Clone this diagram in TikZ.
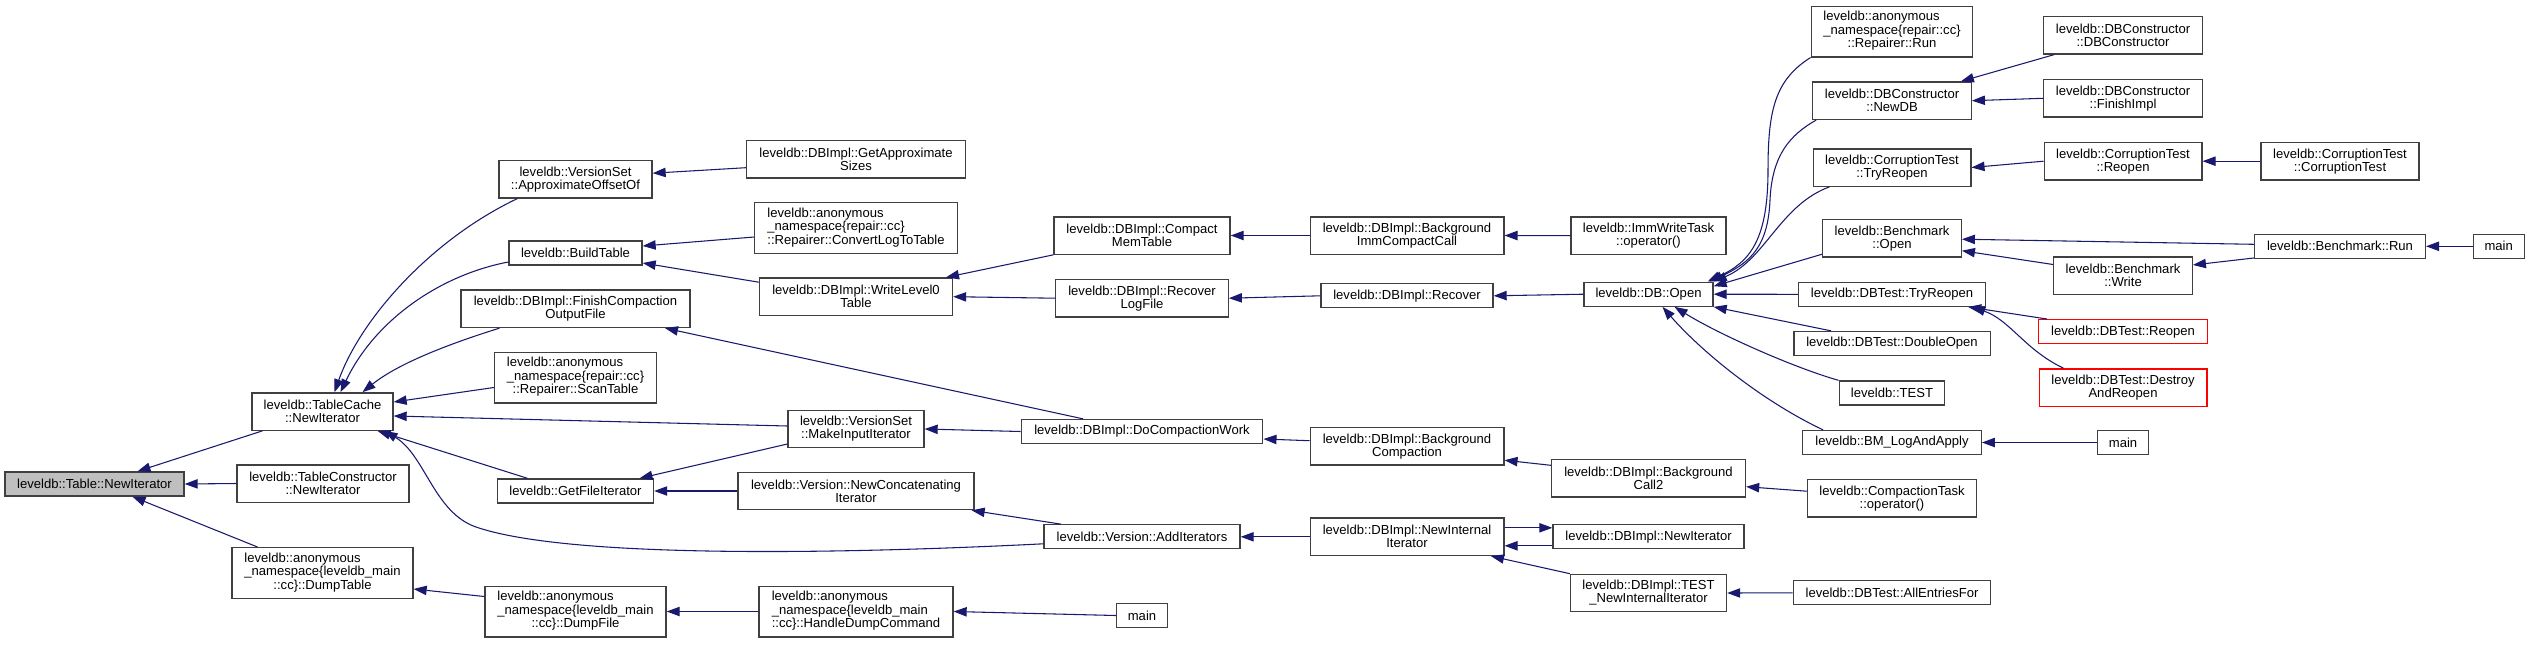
\documentclass[tikz,border=0pt]{standalone}
\usepackage{fontspec}
\setmainfont{Liberation Sans}
\usetikzlibrary{arrows.meta,calc}
\definecolor{edgeblue}{HTML}{191970}
\definecolor{nodegray}{HTML}{404040}
\definecolor{rootfill}{HTML}{BFBFBF}
\definecolor{truncred}{HTML}{FF0000}
\newcommand\anonlbl[3]{\begin{tabular}{@{}l@{}}#1\\#2\\\multicolumn{1}{@{}c@{}}{#3}\end{tabular}}
\begin{document}
\begin{tikzpicture}[x=0.75pt,y=-0.75pt,
  font=\fontsize{9.8}{9.75}\selectfont,
  box/.style={draw=nodegray, line width=1pt, fill=white, inner sep=0pt, align=center, text=black},
  root/.style={box, fill=rootfill},
  trunc/.style={box, draw=truncred},
  L1/.style={minimum height=18pt},
  L2/.style={minimum height=28pt},
  L3/.style={minimum height=38pt},
  bw/.style={minimum width=#1*0.75pt},
  edge/.style={draw=edgeblue, line width=0.8pt, -{Triangle[length=9.75pt,width=7pt]}}]
\fill[white] (0,0) rectangle (2529,647);
\useasboundingbox (0,0) rectangle (2529,647);
% rank 0
\node[root,L1,bw=179] (n0) at (94.5,484) {leveldb::Table::NewIterator};
% rank 1
\node[box,L2,bw=141] (n1) at (322.5,411.5) {leveldb::TableCache\\::NewIterator};
\node[box,L2,bw=172] (n2) at (323,483.5) {leveldb::TableConstructor\\::NewIterator};
\node[box,L3,bw=181] (n3) at (322.5,573) {\anonlbl{leveldb::anonymous}{\_namespace\{leveldb\_main}{::cc\}::DumpTable}};
% rank 2
\node[box,L2,bw=153] (n4) at (575.5,179.2) {leveldb::VersionSet\\::ApproximateOffsetOf};
\node[box,L1,bw=133] (n5) at (575.5,253) {leveldb::BuildTable};
\node[box,L2,bw=229] (n6) at (575.5,308.8) {leveldb::DBImpl::FinishCompaction\\OutputFile};
\node[box,L3,bw=162] (n7) at (575.5,377.5) {\anonlbl{leveldb::anonymous}{\_namespace\{repair::cc\}}{::Repairer::ScanTable}};
\node[box,L1,bw=156] (n8) at (575.5,491) {leveldb::GetFileIterator};
\node[box,L3,bw=181] (n9) at (575.5,611.5) {\anonlbl{leveldb::anonymous}{\_namespace\{leveldb\_main}{::cc\}::DumpFile}};
% rank 3
\node[box,L2,bw=219] (n10) at (856,159.3) {leveldb::DBImpl::GetApproximate\\Sizes};
\node[box,L3,bw=202.5] (n11) at (856,228) {\anonlbl{leveldb::anonymous}{\_namespace\{repair::cc\}}{::Repairer::ConvertLogToTable}};
\node[box,L2,bw=193] (n12) at (856,296.7) {leveldb::DBImpl::WriteLevel0\\Table};
\node[box,L2,bw=136] (n13) at (856,429) {leveldb::VersionSet\\::MakeInputIterator};
\node[box,L2,bw=236] (n14) at (856,491) {leveldb::Version::NewConcatenating\\Iterator};
\node[box,L3,bw=194] (n15) at (856,611.5) {\anonlbl{leveldb::anonymous}{\_namespace\{leveldb\_main}{::cc\}::HandleDumpCommand}};
% rank 4
\node[box,L2,bw=176] (n16) at (1142,235.5) {leveldb::DBImpl::Compact\\MemTable};
\node[box,L2,bw=172.4] (n17) at (1142,298.2) {leveldb::DBImpl::Recover\\LogFile};
\node[box,L1,bw=241.6] (n18) at (1142,431.5) {leveldb::DBImpl::DoCompactionWork};
\node[box,L1,bw=196] (n19) at (1142,536.8) {leveldb::Version::AddIterators};
\node[box,L1,bw=50.6] (n20) at (1142,615.5) {main};
% rank 5
\node[box,L2,bw=193.7] (n21) at (1407,235.5) {leveldb::DBImpl::Background\\ImmCompactCall};
\node[box,L1,bw=172] (n22) at (1407,295.8) {leveldb::DBImpl::Recover};
\node[box,L2,bw=193.7] (n23) at (1407,446.2) {leveldb::DBImpl::Background\\Compaction};
\node[box,L2,bw=193.7] (n24) at (1407,536.8) {leveldb::DBImpl::NewInternal\\Iterator};
% rank 6
\node[box,L2,bw=155] (n25) at (1648.5,235.7) {leveldb::ImmWriteTask\\::operator()};
\node[box,L1,bw=129] (n26) at (1648.5,294.2) {leveldb::DB::Open};
\node[box,L2,bw=194] (n27) at (1648.5,478.3) {leveldb::DBImpl::Background\\Call2};
\node[box,L1,bw=191] (n28) at (1648.5,536.8) {leveldb::DBImpl::NewIterator};
\node[box,L2,bw=156] (n29) at (1648.5,593) {leveldb::DBImpl::TEST\\\_NewInternalIterator};
% rank 7
\node[box,L3,bw=161.5] (n30) at (1892,31.5) {\anonlbl{leveldb::anonymous}{\_namespace\{repair::cc\}}{::Repairer::Run}};
\node[box,L2,bw=158.4] (n31) at (1892,100.7) {leveldb::DBConstructor\\::NewDB};
\node[box,L2,bw=157.7] (n32) at (1892,167.5) {leveldb::CorruptionTest\\::TryReopen};
\node[box,L2,bw=138.5] (n33) at (1892,238.2) {leveldb::Benchmark\\::Open};
\node[box,L1,bw=187] (n34) at (1892,294.3) {leveldb::DBTest::TryReopen};
\node[box,L1,bw=196.3] (n35) at (1892,343.5) {leveldb::DBTest::DoubleOpen};
\node[box,L1,bw=105.6] (n36) at (1892,393) {leveldb::TEST};
\node[box,L1,bw=178.4] (n37) at (1892,442.5) {leveldb::BM\_LogAndApply};
\node[box,L2,bw=169] (n38) at (1892,498.2) {leveldb::CompactionTask\\::operator()};
\node[box,L1,bw=197.3] (n39) at (1892,592.8) {leveldb::DBTest::AllEntriesFor};
% rank 8
\node[box,L2,bw=158.4] (n40) at (2123,35.3) {leveldb::DBConstructor\\::DBConstructor};
\node[box,L2,bw=158.4] (n41) at (2123,98.3) {leveldb::DBConstructor\\::FinishImpl};
\node[box,L2,bw=157.7] (n42) at (2123,161.2) {leveldb::CorruptionTest\\::Reopen};
\node[box,L2,bw=138.5] (n43) at (2123,275.5) {leveldb::Benchmark\\::Write};
\node[trunc,L1,bw=168.4] (n44) at (2123,331.7) {leveldb::DBTest::Reopen};
\node[trunc,L2,bw=167.7] (n45) at (2123,387.5) {leveldb::DBTest::Destroy\\AndReopen};
\node[box,L1,bw=51] (n46) at (2123,442.5) {main};
% rank 9
\node[box,L2,bw=158] (n47) at (2340,161.2) {leveldb::CorruptionTest\\::CorruptionTest};
\node[box,L1,bw=170.6] (n48) at (2340,246.3) {leveldb::Benchmark::Run};
% rank 10
\node[box,L1,bw=51] (n49) at (2498.7,246.3) {main};
% edges
\draw[edge] ($(n1.south)+(-60,0)$) -- ($(n0.north)+(43,0)$);
\draw[edge] (n2.west) -- (n0.east);
\draw[edge] ($(n3.north)+(-65,0)$) -- ($(n0.south)+(38,0)$);
\draw[edge] ($(n4.south)+(-58,0)$) .. controls (430,240) and (360,320) .. ($(n1.north)+(12,0)$);
\draw[edge] ($(n5.west)+(0,9)$) .. controls (440,275) and (375,320) .. ($(n1.north)+(18,0)$);
\draw[edge] ($(n6.south)+(-76,0)$) .. controls (455,342) and (400,362) .. ($(n1.north)+(40,0)$);
\draw[edge] ($(n7.west)+(0,10)$) -- ($(n1.east)+(0,-9.5)$);
\draw[edge] ($(n13.west)+(0,-3)$) -- ($(n1.east)+(0,4.5)$);
\draw[edge] ($(n8.north)+(-48,0)$) -- ($(n1.south)+(55,0)$);
\draw[edge] ($(n19.west)+(0,7)$) .. controls (800,556) and (560,556) .. (476,527) .. controls (434,512.5) and (425,455) .. ($(n1.south)+(62,0)$);
\draw[edge] ($(n10.west)+(0,8.4)$) -- ($(n4.east)+(0,-6)$);
\draw[edge] ($(n11.west)+(0,9)$) -- ($(n5.east)+(0,-7)$);
\draw[edge] ($(n12.west)+(0,-14.5)$) -- ($(n5.east)+(0,10)$);
\draw[edge] ($(n18.north)+(-59,0)$) -- ($(n6.south)+(89.5,0)$);
\draw[edge] ($(n13.west)+(0,15)$) -- ($(n8.north)+(64,0)$);
\draw[edge] (n14.west) -- (n8.east);
\draw[edge] (n15.west) -- (n9.east);
\draw[edge] ($(n9.west)+(0,-15)$) -- ($(n3.east)+(0,16)$);
\draw[edge] (n20.west) -- (n15.east);
\draw[edge] (n16.south west) -- ($(n12.north)+(90,0)$);
\draw[edge] (n17.west) -- (n12.east);
\draw[edge] (n18.west) -- (n13.east);
\draw[edge] ($(n19.north)+(-81,0)$) -- ($(n14.south east)+(-3,0)$);
\draw[edge] (n21.west) -- (n16.east);
\draw[edge] (n22.west) -- (n17.east);
\draw[edge] ($(n23.west)+(0,-5.5)$) -- ($(n18.east)+(0,7.5)$);
\draw[edge] (n24.west) -- (n19.east);
\draw[edge] (n25.west) -- (n21.east);
\draw[edge] (n26.west) -- (n22.east);
\draw[edge] ($(n27.west)+(0,-13)$) -- ($(n23.east)+(0,14)$);
\draw[edge] ($(n28.west)+(0,9)$) -- ($(n24.east)+(0,9)$);
\draw[edge] ($(n24.east)+(0,-9)$) -- ($(n28.west)+(0,-9)$);
\draw[edge] (n29.north west) -- ($(n24.south)+(84,0)$);
\draw[edge] (n30.south west) .. controls (1775,80) and (1768,110) .. (1768,170) .. controls (1768,240) and (1750,262) .. ($(n26.north east)+(-6,0)$);
\draw[edge] ($(n31.south west)+(4,0)$) .. controls (1790,135) and (1772,155) .. (1770,200) .. controls (1768,245) and (1752,262) .. ($(n26.north east)+(-4,0)$);
\draw[edge] ($(n32.south west)+(17,0)$) .. controls (1780,205) and (1765,260) .. (n26.north east);
\draw[edge] ($(n33.west)+(0,16)$) -- ($(n26.east)+(0,-8)$);
\draw[edge] (n34.west) -- (n26.east);
\draw[edge] ($(n35.north)+(-61,0)$) -- (n26.south east);
\draw[edge] (n36.north west) .. controls (1795,368) and (1720,335) .. ($(n26.south)+(26,0)$);
\draw[edge] ($(n37.north)+(-69,0)$) .. controls (1760,400) and (1700,350) .. ($(n26.south)+(14,0)$);
\draw[edge] ($(n38.west)+(0,-7)$) -- ($(n27.east)+(0,8.4)$);
\draw[edge] (n39.west) -- (n29.east);
\draw[edge] ($(n40.south west)+(11,0)$) -- ($(n31.north east)+(-11,0)$);
\draw[edge] (n41.west) -- (n31.east);
\draw[edge] (n42.west) -- (n32.east);
\draw[edge] (n47.west) -- (n42.east);
\draw[edge] ($(n48.west)+(0,-2)$) -- ($(n33.east)+(0,1)$);
\draw[edge] ($(n43.west)+(0,-11)$) -- ($(n33.east)+(0,12.5)$);
\draw[edge] ($(n48.south west)+(0,-1)$) -- ($(n43.east)+(0,-10.5)$);
\draw[edge] (n49.west) -- (n48.east);
\draw[edge] ($(n44.north west)+(9,0)$) -- ($(n34.south east)+(-18,0)$);
\draw[edge] ($(n45.north west)+(25,0)$) .. controls (2025,350) and (2010,320) .. ($(n34.south east)+(-14,0)$);
\draw[edge] (n46.west) -- (n37.east);
\end{tikzpicture}
\end{document}
